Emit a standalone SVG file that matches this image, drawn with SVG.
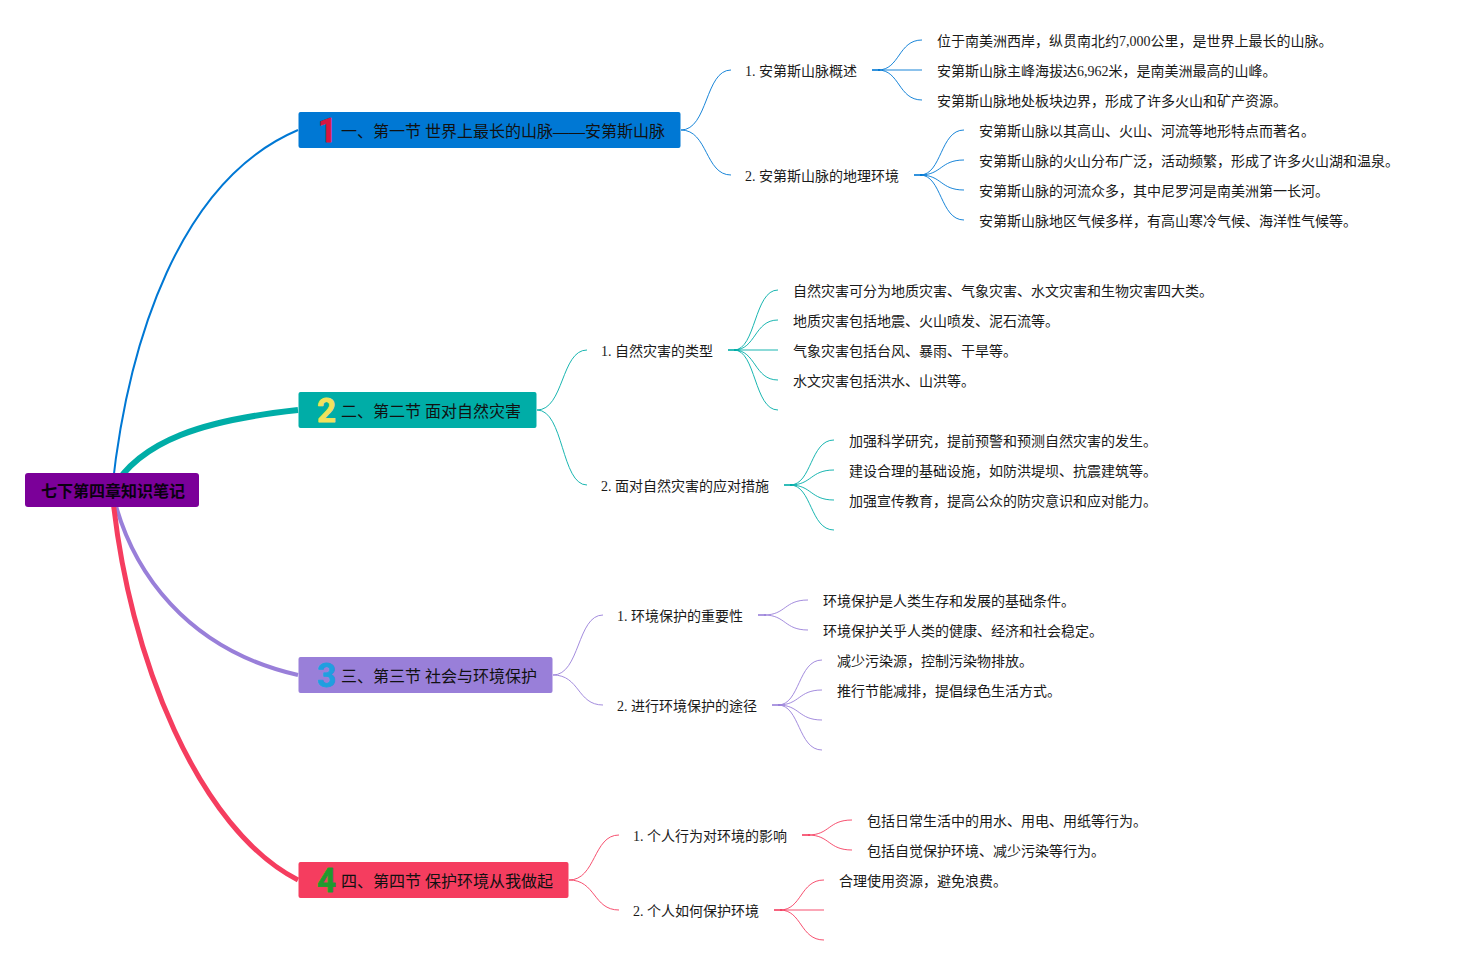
<svg xmlns="http://www.w3.org/2000/svg" width="1459" height="965" viewBox="0 0 1459 965">
<style>
text{font-family:"Liberation Serif","Noto Sans CJK SC",serif;font-size:14px;fill:#1a1a1a}
.root{font-family:"Liberation Sans","Noto Sans CJK SC",sans-serif;font-size:16px;font-weight:bold;fill:#0a0010}
.head{font-size:16px;fill:#111}
.num{font-family:Roboto,"Liberation Sans",sans-serif;font-size:33px;font-weight:700;stroke-width:.8;stroke-linejoin:round}
path{fill:none}
.thin{stroke-width:1;opacity:.9}
.stub{stroke-width:2;opacity:.8}
.b{stroke:#0078d4}.t{stroke:#00ada7}.p{stroke:#997fd9}.r{stroke:#f53d5f}
</style>
<g id="connectors">
<path class="b" stroke-width="2" d="M112 490C128 340 180 180 298 130"/>
<path class="t" stroke-width="6" d="M112 490C140 440 205 420 298 410"/>
<path class="p" stroke-width="4" d="M112 490C130 572 188 650 298 675"/>
<path class="r" stroke-width="5" d="M112 490C128 660 200 830 298 880"/>
<g class="b">
<path class="thin" d="M681 130C708 130 705 70 731 70"/><path class="thin" d="M681 130C708 130 705 175 731 175"/>
<path class="stub" d="M872 70H880"/><path class="thin" d="M878 70C900 70 898 40 922 40"/><path class="thin" d="M878 70H922"/><path class="thin" d="M878 70C900 70 898 100 922 100"/>
<path class="stub" d="M914 175H922"/><path class="thin" d="M920 175C942 175 940 130 964 130"/><path class="thin" d="M920 175C942 175 940 160 964 160"/><path class="thin" d="M920 175C942 175 940 190 964 190"/><path class="thin" d="M920 175C942 175 940 220 964 220"/>
</g>
<g class="t">
<path class="thin" d="M537 410C564 410 561 350 587 350"/><path class="thin" d="M537 410C564 410 561 485 587 485"/>
<path class="stub" d="M728 350H736"/><path class="thin" d="M734 350C756 350 754 290 778 290"/><path class="thin" d="M734 350C756 350 754 320 778 320"/><path class="thin" d="M734 350H778"/><path class="thin" d="M734 350C756 350 754 380 778 380"/><path class="thin" d="M734 350C756 350 754 410 778 410"/>
<path class="stub" d="M784 485H792"/><path class="thin" d="M790 485C812 485 810 440 834 440"/><path class="thin" d="M790 485C812 485 810 470 834 470"/><path class="thin" d="M790 485C812 485 810 500 834 500"/><path class="thin" d="M790 485C812 485 810 530 834 530"/>
</g>
<g class="p">
<path class="thin" d="M553 675C580 675 577 615 603 615"/><path class="thin" d="M553 675C580 675 577 705 603 705"/>
<path class="stub" d="M758 615H766"/><path class="thin" d="M764 615C786 615 784 600 808 600"/><path class="thin" d="M764 615C786 615 784 630 808 630"/>
<path class="stub" d="M772 705H780"/><path class="thin" d="M778 705C800 705 798 660 822 660"/><path class="thin" d="M778 705C800 705 798 690 822 690"/><path class="thin" d="M778 705C800 705 798 720 822 720"/><path class="thin" d="M778 705C800 705 798 750 822 750"/>
</g>
<g class="r">
<path class="thin" d="M569 880C596 880 593 835 619 835"/><path class="thin" d="M569 880C596 880 593 910 619 910"/>
<path class="stub" d="M802 835H810"/><path class="thin" d="M808 835C830 835 828 820 852 820"/><path class="thin" d="M808 835C830 835 828 850 852 850"/>
<path class="stub" d="M774 910H782"/><path class="thin" d="M780 910C802 910 800 880 824 880"/><path class="thin" d="M780 910H824"/><path class="thin" d="M780 910C802 910 800 940 824 940"/>
</g>
</g>
<g id="root"><rect x="25" y="473" width="174" height="34" rx="3" fill="#7b0099"/><text class="root" x="41" y="497">七下第四章知识笔记</text></g>
<g id="b1"><rect x="298.5" y="112" width="382" height="36" rx="2" fill="#0078d4"/><text class="num" x="318" y="142" style="fill:#d9153f;stroke:#d9153f">1</text><text class="head" x="341" y="137">一、第一节 世界上最长的山脉——安第斯山脉</text></g>
<g id="b1s1"><text x="745" y="76">1. 安第斯山脉概述</text></g>
<g id="b1s1a"><text x="937" y="46">位于南美洲西岸，纵贯南北约7,000公里，是世界上最长的山脉。</text></g>
<g id="b1s1b"><text x="937" y="76">安第斯山脉主峰海拔达6,962米，是南美洲最高的山峰。</text></g>
<g id="b1s1c"><text x="937" y="106">安第斯山脉地处板块边界，形成了许多火山和矿产资源。</text></g>
<g id="b1s2"><text x="745" y="181">2. 安第斯山脉的地理环境</text></g>
<g id="b1s2a"><text x="979" y="136">安第斯山脉以其高山、火山、河流等地形特点而著名。</text></g>
<g id="b1s2b"><text x="979" y="166">安第斯山脉的火山分布广泛，活动频繁，形成了许多火山湖和温泉。</text></g>
<g id="b1s2c"><text x="979" y="196">安第斯山脉的河流众多，其中尼罗河是南美洲第一长河。</text></g>
<g id="b1s2d"><text x="979" y="226">安第斯山脉地区气候多样，有高山寒冷气候、海洋性气候等。</text></g>
<g id="b2"><rect x="298.5" y="392" width="238" height="36" rx="2" fill="#00ada7"/><text class="num" x="317" y="422" style="fill:#f2e25c;stroke:#f2e25c">2</text><text class="head" x="341" y="417">二、第二节 面对自然灾害</text></g>
<g id="b2s1"><text x="601" y="356">1. 自然灾害的类型</text></g>
<g id="b2s1a"><text x="793" y="296">自然灾害可分为地质灾害、气象灾害、水文灾害和生物灾害四大类。</text></g>
<g id="b2s1b"><text x="793" y="326">地质灾害包括地震、火山喷发、泥石流等。</text></g>
<g id="b2s1c"><text x="793" y="356">气象灾害包括台风、暴雨、干旱等。</text></g>
<g id="b2s1d"><text x="793" y="386">水文灾害包括洪水、山洪等。</text></g>
<g id="b2s2"><text x="601" y="491">2. 面对自然灾害的应对措施</text></g>
<g id="b2s2a"><text x="849" y="446">加强科学研究，提前预警和预测自然灾害的发生。</text></g>
<g id="b2s2b"><text x="849" y="476">建设合理的基础设施，如防洪堤坝、抗震建筑等。</text></g>
<g id="b2s2c"><text x="849" y="506">加强宣传教育，提高公众的防灾意识和应对能力。</text></g>
<g id="b3"><rect x="298.5" y="657" width="254" height="36" rx="2" fill="#997fd9"/><text class="num" x="317" y="687" style="fill:#1f9fe0;stroke:#1f9fe0">3</text><text class="head" x="341" y="682">三、第三节 社会与环境保护</text></g>
<g id="b3s1"><text x="617" y="621">1. 环境保护的重要性</text></g>
<g id="b3s1a"><text x="823" y="606">环境保护是人类生存和发展的基础条件。</text></g>
<g id="b3s1b"><text x="823" y="636">环境保护关乎人类的健康、经济和社会稳定。</text></g>
<g id="b3s2"><text x="617" y="711">2. 进行环境保护的途径</text></g>
<g id="b3s2a"><text x="837" y="666">减少污染源，控制污染物排放。</text></g>
<g id="b3s2b"><text x="837" y="696">推行节能减排，提倡绿色生活方式。</text></g>
<g id="b4"><rect x="298.5" y="862" width="270" height="36" rx="2" fill="#f53d5f"/><text class="num" x="317" y="892" style="fill:#1f9a2e;stroke:#1f9a2e">4</text><text class="head" x="341" y="887">四、第四节 保护环境从我做起</text></g>
<g id="b4s1"><text x="633" y="841">1. 个人行为对环境的影响</text></g>
<g id="b4s1a"><text x="867" y="826">包括日常生活中的用水、用电、用纸等行为。</text></g>
<g id="b4s1b"><text x="867" y="856">包括自觉保护环境、减少污染等行为。</text></g>
<g id="b4s2"><text x="633" y="916">2. 个人如何保护环境</text></g>
<g id="b4s2a"><text x="839" y="886">合理使用资源，避免浪费。</text></g>
</svg>
